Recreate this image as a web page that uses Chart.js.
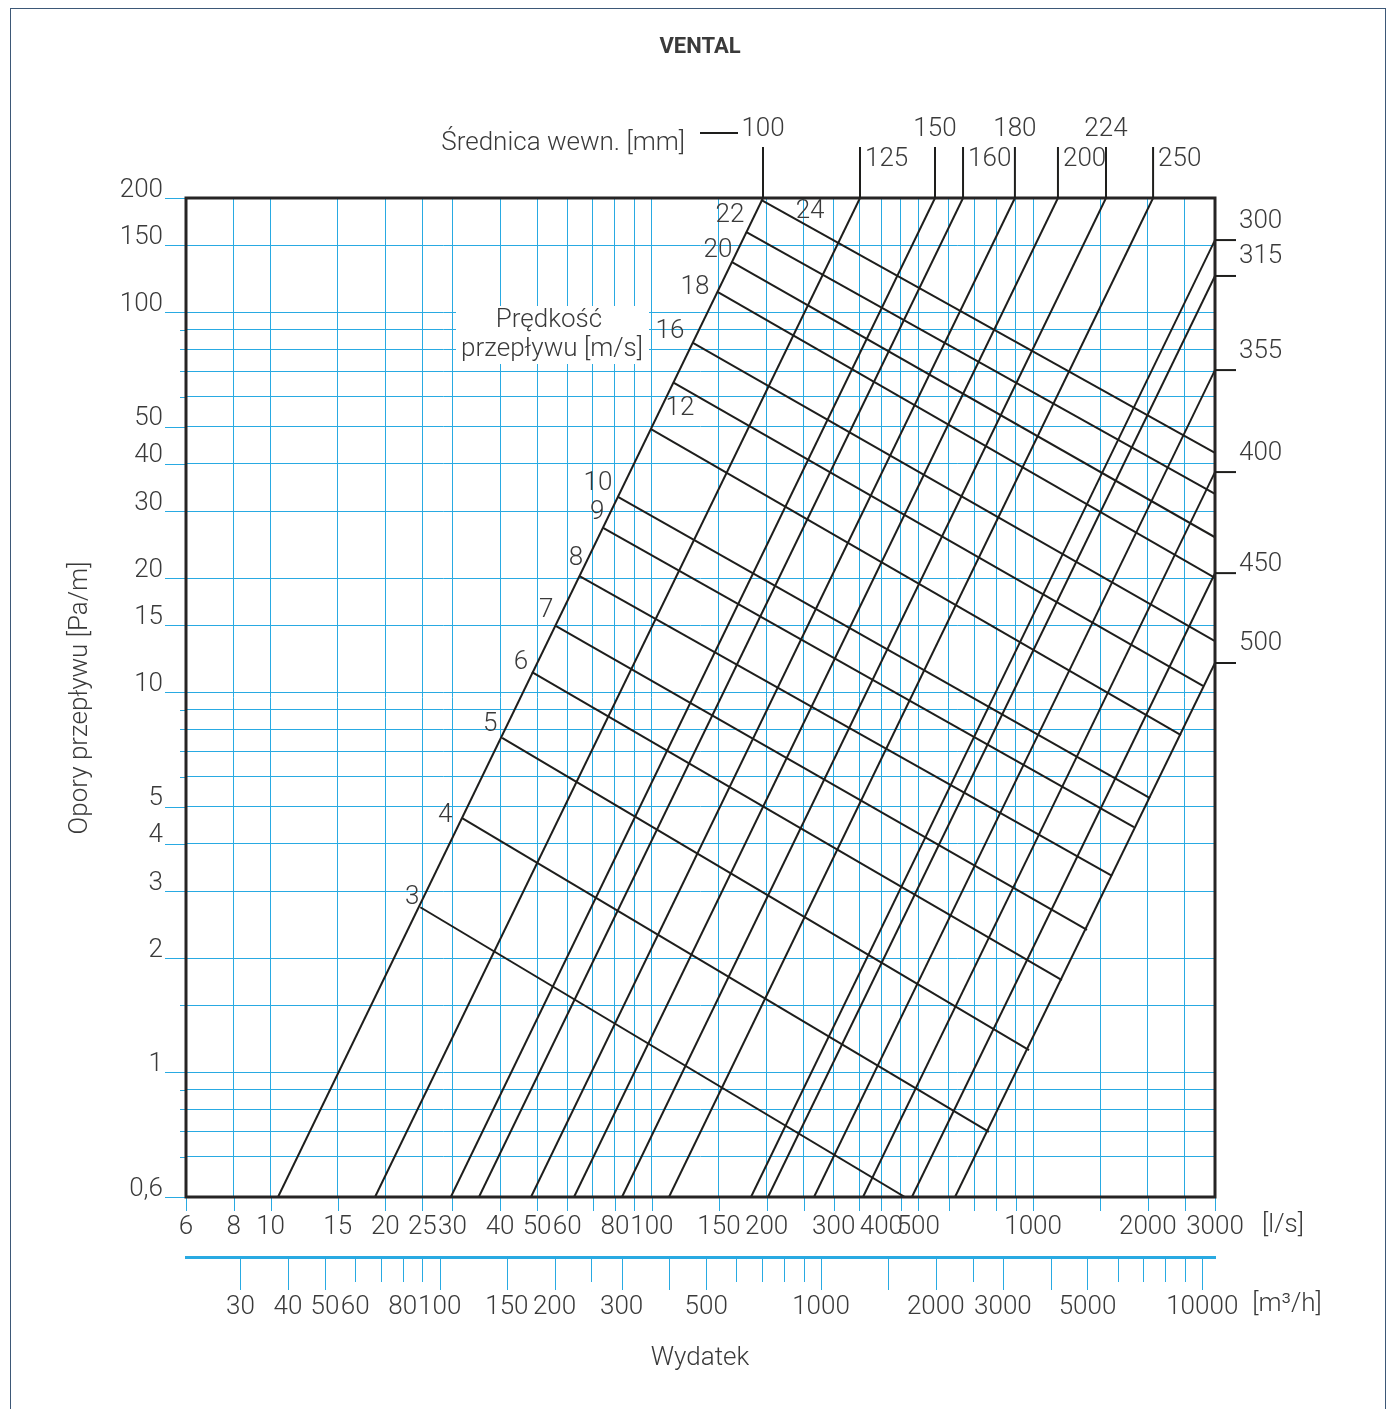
<!DOCTYPE html>
<html lang="pl">
<head>
<meta charset="UTF-8">
<title>VENTAL - opory przepływu</title>
<style>
  html, body { margin: 0; padding: 0; background: #fff; }
  #wrap { position: relative; width: 1391px; height: 1409px; overflow: hidden; }
  #frame { position: absolute; left: 10px; top: 8px; width: 1376px; height: 1420px;
           border: 1px solid #3d5877; box-sizing: border-box; pointer-events: none; }
  canvas { position: absolute; left: 0; top: 0; }
</style>
<script src="https://cdn.jsdelivr.net/npm/chart.js"></script>
</head>
<body>
<div id="wrap">
  <canvas id="chart" width="1391" height="1409"></canvas>
  <div id="frame"></div>
</div>
<script>
// axis ranges: flow [l/s], pressure loss [Pa/m]
const flowMin = 6, flowMax = 3000;
const lossMin = 0.47, lossMax = 200;

// duct diameters [mm], each line runs from the low end to the high end
const diameters    = [100, 125, 150, 160, 180, 200, 224, 250, 300, 315, 355, 400, 450, 500];
const diamLowFlow  = [10.46, 18.79, 29.7, 35.2, 48.2, 62.5, 83.5, 110.9, 182, 201.7, 266.3, 358, 481, 624];
const diamLowLoss  = [0.47, 0.47, 0.47, 0.47, 0.47, 0.47, 0.47, 0.47, 0.47, 0.47, 0.47, 0.47, 0.47, 0.47];
const diamHighFlow = [195.7, 351.6, 553, 655, 896, 1162, 1553, 2064, 3000, 3000, 3000, 3000, 3000, 3000];
const diamHighLoss = [200, 200, 200, 200, 200, 200, 200, 200, 155, 124.7, 70.5, 38.0, 20.6, 11.95];

// air velocity lines [m/s]
const velocities   = [3, 4, 5, 6, 7, 8, 9, 10, 12, 14, 16, 18, 20, 22, 24];
const velLabels    = ['3', '4', '5', '6', '7', '8', '9', '10', '12', '', '16', '18', '20', '22', '24'];
const velStartFlow = [24.7, 31.8, 40.5, 48.5, 56.1, 64.8, 74.5, 81.5, 99.5, 114.3, 128.2, 149.1, 162.3, 176.6, 193.4];
const velStartLoss = [2.72, 4.67, 7.59, 11.31, 14.95, 20.2, 27.1, 32.7, 49.3, 65.2, 83.1, 113.1, 135.7, 162.8, 197.6];
const velEndFlow   = [461, 766, 976, 1190, 1385, 1611, 1839, 2026, 2443, 2790, 3000, 3000, 3000, 3000, 3000];
const velEndLoss   = [0.47, 0.697, 1.145, 1.75, 2.37, 3.29, 4.42, 5.27, 7.72, 10.4, 13.65, 20.0, 25.6, 33.3, 42.7];

// grid and tick labels
const xGrid   = [6, 8, 10, 15, 20, 25, 30, 40, 50, 60, 70, 80, 90, 100, 150, 200, 250, 300, 350, 400, 450,
                 500, 600, 700, 800, 900, 1000, 1500, 2000, 2500, 3000];
const xLabels = [6, 8, 10, 15, 20, 25, 30, 40, 50, 60, 80, 100, 150, 200, 300, 400, 500, 1000, 2000, 3000];
const yGrid   = [0.47, 0.6, 0.7, 0.8, 0.9, 1, 1.5, 2, 3, 4, 5, 6, 7, 8, 9, 10, 15, 20, 30, 40, 50,
                 60, 70, 80, 90, 100, 150, 200];
const yLabelVals = [0.47, 1, 2, 3, 4, 5, 10, 15, 20, 30, 40, 50, 100, 150, 200];
const yLabelText = ['0,6', '1', '2', '3', '4', '5', '10', '15', '20', '30', '40', '50', '100', '150', '200'];
const m3Long   = [30, 40, 50, 100, 150, 200, 300, 400, 500, 1000, 1500, 2000, 3000, 4000, 5000, 10000];
const m3Short  = [60, 70, 80, 90, 250, 600, 700, 800, 900, 2500, 6000, 7000, 8000, 9000];
const m3Labels = [30, 40, 50, 60, 80, 100, 150, 200, 300, 500, 1000, 2000, 3000, 5000, 10000];

// styles
const GRID = 'rgb(41,170,226)';
const INK = '#1e1e1c';
const TXT = '#3a3a3a';
const FONT = 'Roboto, "Open Sans", sans-serif';
const tickFont = { family: FONT, size: 26, weight: 300 };
const velLabelShift = {
  3: [-8, -10], 4: [-17, -3], 5: [-12, -13], 6: [-11, -10], 7: [-10, -16], 8: [-4, -18],
  9: [-6, -15], 10: [-20, -13], 12: [29, -21], 16: [-23, -11], 18: [-23, -5], 20: [-14, -12],
  22: [-16, -16], 24: [49, 12]
};
const sideLabelLift = { 450: 10 };

const datasets = [];
diameters.forEach((d, i) => {
  datasets.push({
    label: 'D' + d,
    data: [{ x: diamLowFlow[i], y: diamLowLoss[i] }, { x: diamHighFlow[i], y: diamHighLoss[i] }],
    showLine: true, borderColor: INK, borderWidth: 2, pointRadius: 0
  });
});
velocities.forEach((v, i) => {
  datasets.push({
    label: 'v' + v,
    data: [{ x: velStartFlow[i], y: velStartLoss[i] }, { x: velEndFlow[i], y: velEndLoss[i] }],
    showLine: true, borderColor: INK, borderWidth: 2, pointRadius: 0
  });
});

function text(c, s, x, y, align, font) {
  c.font = font || ('300 26px ' + FONT);
  c.textAlign = align || 'center';
  c.textBaseline = 'middle';
  c.fillText(s, x, y);
}

const decor = {
  id: 'decor',
  beforeDatasetsDraw(chart) {
    // white box behind the velocity caption
    const c = chart.ctx;
    c.save();
    c.fillStyle = '#fff';
    c.fillRect(456, 306, 193, 58);
    c.restore();
  },
  afterDatasetsDraw(chart) {
    const c = chart.ctx, a = chart.chartArea;
    const xs = chart.scales.x, ys = chart.scales.y, x2 = chart.scales.x2;
    c.save();

    // outside tick marks
    c.strokeStyle = GRID;
    c.lineWidth = 1;
    c.beginPath();
    yGrid.forEach(v => {
      const p = Math.round(ys.getPixelForValue(v)) + 0.5;
      const len = yLabelVals.includes(v) ? 21 : 6;
      c.moveTo(a.left - len, p); c.lineTo(a.left, p);
    });
    xGrid.forEach(v => {
      const p = Math.round(xs.getPixelForValue(v)) + 0.5;
      c.moveTo(p, a.bottom); c.lineTo(p, a.bottom + 14);
    });
    m3Long.forEach(v => {
      const p = Math.round(x2.getPixelForValue(v)) + 0.5;
      c.moveTo(p, x2.top); c.lineTo(p, x2.top + 33);
    });
    m3Short.forEach(v => {
      const p = Math.round(x2.getPixelForValue(v)) + 0.5;
      c.moveTo(p, x2.top); c.lineTo(p, x2.top + 25);
    });
    c.stroke();

    // plot frame
    c.strokeStyle = '#262424';
    c.lineWidth = 3;
    c.strokeRect(a.left, a.top, a.right - a.left, a.bottom - a.top);

    // diameter markers and labels
    c.strokeStyle = INK;
    c.lineWidth = 2;
    c.fillStyle = TXT;
    diameters.forEach((d, i) => {
      const px = xs.getPixelForValue(diamHighFlow[i]);
      const py = ys.getPixelForValue(diamHighLoss[i]);
      c.beginPath();
      if (diamHighLoss[i] >= lossMax) {
        c.moveTo(px, a.top); c.lineTo(px, a.top - 51); c.stroke();
        if (i % 2 === 0) text(c, String(d), px, a.top - 69, 'center');
        else text(c, String(d), px + 5, a.top - 39, 'left');
      } else {
        c.moveTo(a.right, py); c.lineTo(a.right + 21, py); c.stroke();
        text(c, String(d), a.right + 24, py - 19 + (sideLabelLift[d] || 0), 'left');
      }
    });

    // velocity labels
    velocities.forEach((v, i) => {
      if (!velLabels[i]) return;
      const sh = velLabelShift[v] || [-14, -12];
      const px = xs.getPixelForValue(velStartFlow[i]) + sh[0];
      const py = ys.getPixelForValue(velStartLoss[i]) + sh[1];
      text(c, velLabels[i], px, py, 'center');
    });

    // captions
    text(c, 'VENTAL', 700, 47, 'center', '700 22px ' + FONT);
    text(c, 'Średnica wewn. [mm]', 685, 143, 'right');
    c.beginPath(); c.moveTo(700, 133); c.lineTo(738, 133); c.stroke();
    text(c, 'Prędkość', 549, 320, 'center');
    text(c, 'przepływu [m/s]', 552, 349, 'center');
    text(c, '[l/s]', a.right + 68, 1225, 'center');
    text(c, '[m³/h]', 1287, 1304, 'center');
    text(c, 'Wydatek', 700, 1358, 'center');
    c.translate(80, 698);
    c.rotate(-Math.PI / 2);
    text(c, 'Opory przepływu [Pa/m]', 0, 0, 'center');
    c.restore();
  }
};

new Chart(document.getElementById('chart'), {
  type: 'scatter',
  data: { datasets },
  options: {
    responsive: false,
    animation: false,
    layout: { padding: { top: 198, right: 176, bottom: 0, left: 0 } },
    plugins: { legend: { display: false }, tooltip: { enabled: false } },
    scales: {
      x: {
        type: 'logarithmic', min: flowMin, max: flowMax, position: 'bottom', weight: 0,
        afterBuildTicks: s => { s.ticks = xGrid.map(v => ({ value: v })); },
        afterFit: s => { s.height = 60; },
        grid: { color: GRID, lineWidth: 1, drawTicks: false },
        border: { display: false },
        ticks: {
          autoSkip: false, maxRotation: 0, padding: 15, color: TXT, font: tickFont,
          callback: v => xLabels.includes(v) ? String(v) : ''
        }
      },
      x2: {
        type: 'logarithmic', min: flowMin * 3.6, max: flowMax * 3.6, position: 'bottom', weight: 1,
        afterBuildTicks: s => { s.ticks = m3Labels.map(v => ({ value: v })); },
        afterFit: s => { s.height = 152; },
        grid: { drawOnChartArea: false, drawTicks: false, color: 'rgba(0,0,0,0)' },
        border: { display: true, color: GRID, width: 3 },
        ticks: {
          autoSkip: false, maxRotation: 0, padding: 35, color: TXT, font: tickFont,
          callback: v => String(v)
        }
      },
      y: {
        type: 'logarithmic', min: lossMin, max: lossMax, position: 'left',
        afterBuildTicks: s => { s.ticks = yGrid.map(v => ({ value: v })); },
        afterFit: s => { s.width = 186; },
        grid: { color: GRID, lineWidth: 1, drawTicks: false },
        border: { display: false },
        ticks: {
          autoSkip: false, padding: 23, labelOffset: -8, color: TXT, font: tickFont,
          callback: v => {
            const k = yLabelVals.indexOf(v);
            return k >= 0 ? yLabelText[k] : '';
          }
        }
      }
    }
  },
  plugins: [decor]
});
</script>
</body>
</html>
